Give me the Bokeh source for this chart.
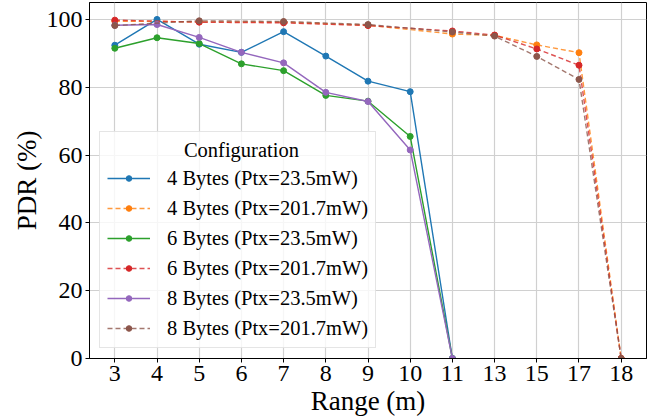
from bokeh.plotting import figure
from bokeh.models import FactorRange, Range1d, Legend, LegendItem, FixedTicker
from bokeh.embed import file_html
from bokeh.resources import INLINE

# Measured ranges (m), shown as evenly spaced categories
ranges = ["3", "4", "5", "6", "7", "8", "9", "10", "11", "13", "15", "17", "18"]

# Low-power configurations were measured from 3 m to 11 m
ranges_low = ["3", "4", "5", "6", "7", "8", "9", "10", "11"]
pdr_4b_low = [92.4, 100.0, 92.7, 90.3, 96.4, 89.2, 81.8, 78.7, 0.0]
pdr_6b_low = [91.5, 94.6, 92.9, 86.9, 84.9, 77.6, 75.9, 65.5, 0.0]
pdr_8b_low = [98.3, 98.5, 94.7, 90.3, 87.2, 78.5, 75.8, 61.5, 0.0]

# High-power configurations were measured from 3 m to 18 m
ranges_high = ["3", "5", "7", "9", "11", "13", "15", "17", "18"]
pdr_4b_high = [99.5, 99.3, 99.2, 98.3, 95.7, 95.3, 92.5, 90.2, 0.0]
pdr_6b_high = [99.8, 99.2, 99.0, 98.2, 96.6, 95.4, 91.3, 86.5, 0.0]
pdr_8b_high = [98.2, 99.6, 99.4, 98.5, 96.3, 95.1, 89.1, 82.3, 0.0]

y_ticks = [0, 20, 40, 60, 80, 100]

# quoted so the multi-word family survives the canvas font shorthand
FONT = "'Liberation Serif', serif"

p = figure(
    width=665, height=419,
    x_range=FactorRange(factors=ranges, range_padding=0.1, range_padding_units="absolute"),
    y_range=Range1d(0, 105),
    output_backend="svg", toolbar_location=None,
    min_border_left=89, min_border_right=19, min_border_top=2, min_border_bottom=61,
    background_fill_color="white", border_fill_color="white",
)

p.outline_line_color = "black"
p.outline_line_width = 1
p.outline_line_alpha = 1.0

for ax in (p.xaxis[0], p.yaxis[0]):
    ax.axis_line_color = "black"
    ax.major_tick_line_color = "black"
    ax.major_tick_out = 4
    ax.major_tick_in = 0
    ax.minor_tick_line_color = None
    ax.major_label_text_font = FONT
    ax.major_label_text_font_size = "24px"
    ax.major_label_text_color = "black"
    ax.axis_label_text_font = FONT
    ax.axis_label_text_font_size = "27px"
    ax.axis_label_text_font_style = "normal"
    ax.axis_label_text_color = "black"
    ax.major_label_standoff = 3
    ax.axis_label_standoff = 2

p.xaxis.axis_label = "Range (m)"
p.yaxis.axis_label = "PDR (%)"
p.yaxis.ticker = FixedTicker(ticks=y_ticks)

p.xgrid.grid_line_color = "#d0d0d0"
p.ygrid.grid_line_color = "#d0d0d0"
p.xgrid.grid_line_width = 1.2
p.ygrid.grid_line_width = 1.2

series = [
    ("4 Bytes (Ptx=23.5mW)", ranges_low, pdr_4b_low, "#1f77b4", "solid"),
    ("4 Bytes (Ptx=201.7mW)", ranges_high, pdr_4b_high, "#ff7f0e", "dashed"),
    ("6 Bytes (Ptx=23.5mW)", ranges_low, pdr_6b_low, "#2ca02c", "solid"),
    ("6 Bytes (Ptx=201.7mW)", ranges_high, pdr_6b_high, "#d62728", "dashed"),
    ("8 Bytes (Ptx=23.5mW)", ranges_low, pdr_8b_low, "#9467bd", "solid"),
    ("8 Bytes (Ptx=201.7mW)", ranges_high, pdr_8b_high, "#8c564b", "dashed"),
]

items = []
for label, xs, ys, color, style in series:
    if style == "solid":
        ln = p.line(xs, ys, line_color=color, line_width=1.4)
    else:
        ln = p.line(xs, ys, line_color=color, line_width=1.4, line_alpha=0.8, line_dash="5 3")
    mk = p.scatter(xs, ys, size=6, fill_color=color, line_color=color, marker="circle")
    items.append(LegendItem(label=label, renderers=[ln, mk]))

legend = Legend(
    items=items,
    location=(10, 10),
    title="\u00a0" * 15 + "Configuration",
    title_text_font=FONT, title_text_font_size="20.5px", title_text_font_style="normal",
    title_text_color="black", title_standoff=4,
    label_text_font=FONT, label_text_font_size="20.5px", label_text_color="black",
    glyph_width=43, glyph_height=14, label_height=24, label_standoff=17,
    spacing=6, padding=7, margin=0,
    border_line_color="#cccccc", border_line_width=1,
    background_fill_color="white", background_fill_alpha=0.8,
)
p.add_layout(legend, "center")

open("out.html", "w").write(file_html(p, INLINE))
